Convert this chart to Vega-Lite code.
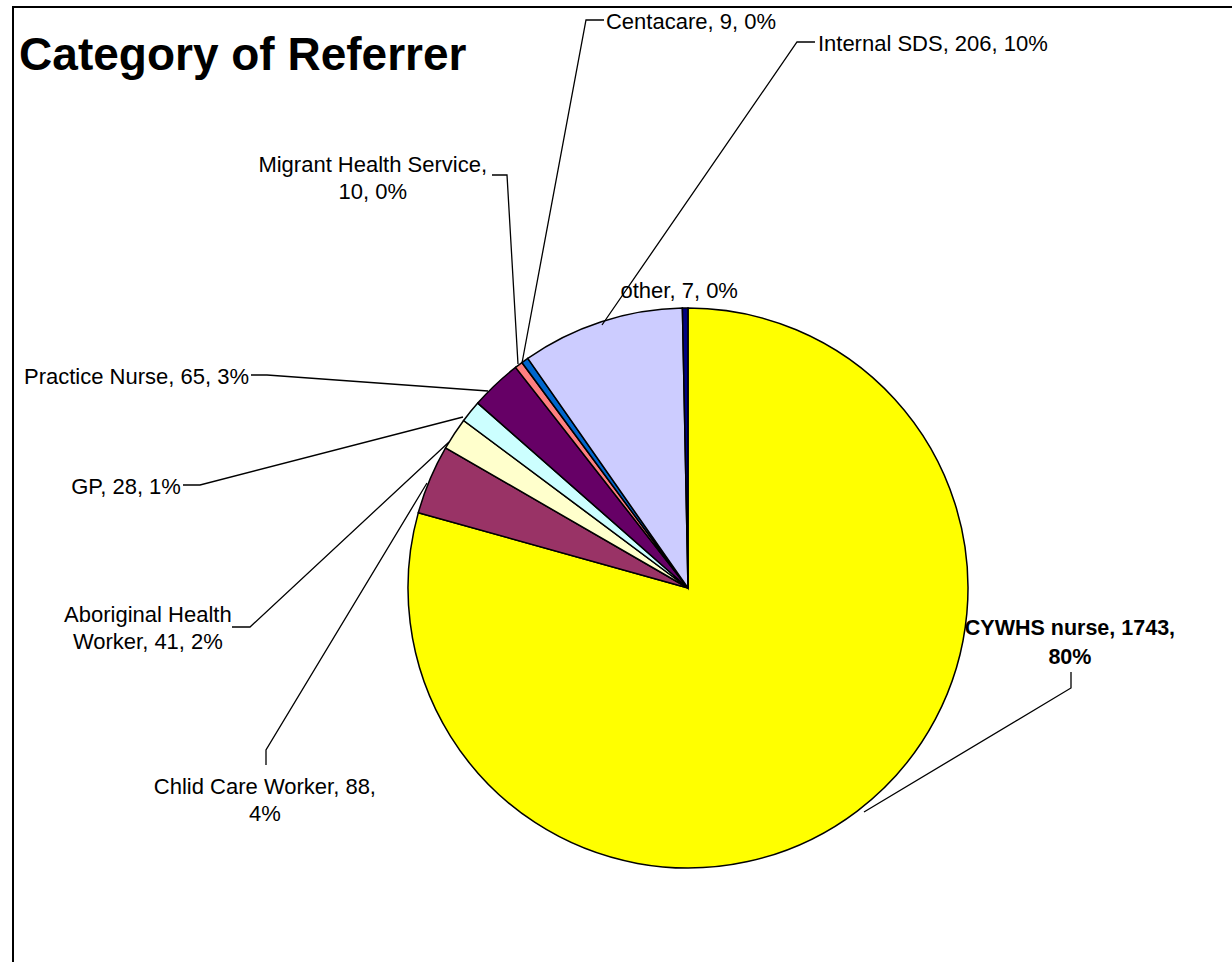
{
  "$schema": "https://vega.github.io/schema/vega-lite/v6.json",
  "width": 1221,
  "height": 957,
  "autosize": {"type": "none"},
  "padding": {"left": 13, "top": 7, "right": -2, "bottom": -2},
  "background": "white",
  "config": {
    "view": {"stroke": "black", "strokeWidth": 2},
    "text": {"font": "Arial, Liberation Sans", "fontSize": 22, "color": "black"}
  },
  "datasets": {
    "slices": [
      {"cat": "CYWHS nurse", "value": 1743, "pos": 1},
      {"cat": "Chlid Care Worker", "value": 88, "pos": 2},
      {"cat": "Aboriginal Health Worker", "value": 41, "pos": 3},
      {"cat": "GP", "value": 28, "pos": 4},
      {"cat": "Practice Nurse", "value": 65, "pos": 5},
      {"cat": "Migrant Health Service", "value": 10, "pos": 6},
      {"cat": "Centacare", "value": 9, "pos": 7},
      {"cat": "Internal SDS", "value": 206, "pos": 8},
      {"cat": "other", "value": 7, "pos": 9}
    ],
    "labels": [
      {"cat": "Centacare", "text": "Centacare, 9, 0%", "lx": -29.3, "ly": 202.0},
      {"cat": "Internal SDS", "text": "Internal SDS, 206, 10%", "lx": 46.4, "ly": 194.3},
      {"cat": "other", "text": "other, 7, 0%", "lx": -24.1, "ly": 105.9},
      {"cat": "Practice Nurse", "text": "Practice Nurse, 65, 3%", "lx": -156.8, "ly": 75.2},
      {"cat": "GP", "text": "GP, 28, 1%", "lx": -181.1, "ly": 35.9},
      {"cat": "Migrant Health Service", "text": "Migrant Health Service,\n10, 0%", "lx": -112.6, "ly": 151.2},
      {"cat": "Aboriginal Health Worker", "text": "Aboriginal Health\nWorker, 41, 2%", "lx": -192.9, "ly": -9.5},
      {"cat": "Chlid Care Worker", "text": "Chlid Care Worker, 88,\n4%", "lx": -151.1, "ly": -70.9},
      {"cat": "CYWHS nurse", "text": "CYWHS nurse, 1743,\n80%", "lx": 136.4, "ly": -14.5}
    ],
    "leaders": [
      {"cat": "Centacare", "seq": 1, "lx": -30.0, "ly": 202.857},
      {"cat": "Centacare", "seq": 2, "lx": -36.429, "ly": 202.857},
      {"cat": "Centacare", "seq": 3, "lx": -59.286, "ly": 80.357},
      {"cat": "Internal SDS", "seq": 1, "lx": 45.357, "ly": 195.0},
      {"cat": "Internal SDS", "seq": 2, "lx": 38.929, "ly": 195.0},
      {"cat": "Internal SDS", "seq": 3, "lx": -30.714, "ly": 93.929},
      {"cat": "Migrant Health Service", "seq": 1, "lx": -70.0, "ly": 147.5},
      {"cat": "Migrant Health Service", "seq": 2, "lx": -64.643, "ly": 147.5},
      {"cat": "Migrant Health Service", "seq": 3, "lx": -60.714, "ly": 80.0},
      {"cat": "Practice Nurse", "seq": 1, "lx": -156.071, "ly": 76.071},
      {"cat": "Practice Nurse", "seq": 2, "lx": -150.357, "ly": 76.071},
      {"cat": "Practice Nurse", "seq": 3, "lx": -71.429, "ly": 70.357},
      {"cat": "GP", "seq": 1, "lx": -180.357, "ly": 36.786},
      {"cat": "GP", "seq": 2, "lx": -174.286, "ly": 36.786},
      {"cat": "GP", "seq": 3, "lx": -80.357, "ly": 61.071},
      {"cat": "Aboriginal Health Worker", "seq": 1, "lx": -162.857, "ly": -13.929},
      {"cat": "Aboriginal Health Worker", "seq": 2, "lx": -156.429, "ly": -13.929},
      {"cat": "Aboriginal Health Worker", "seq": 3, "lx": -85.357, "ly": 52.143},
      {"cat": "Chlid Care Worker", "seq": 1, "lx": -150.714, "ly": -63.214},
      {"cat": "Chlid Care Worker", "seq": 2, "lx": -150.714, "ly": -57.857},
      {"cat": "Chlid Care Worker", "seq": 3, "lx": -93.214, "ly": 37.5},
      {"cat": "CYWHS nurse", "seq": 1, "lx": 136.786, "ly": -30.0},
      {"cat": "CYWHS nurse", "seq": 2, "lx": 136.786, "ly": -35.714},
      {"cat": "CYWHS nurse", "seq": 3, "lx": 62.857, "ly": -80.0}
    ]
  },
  "layer": [
    {
      "data": {"name": "slices"},
      "mark": {"type": "arc", "outerRadius": 280, "stroke": "black", "strokeWidth": 1.5},
      "encoding": {
        "x": {"datum": 0, "type": "quantitative", "scale": {"domain": [-241.071, 195], "nice": false, "zero": false}, "axis": null},
        "y": {"datum": 0, "type": "quantitative", "scale": {"domain": [-134.286, 207.5], "nice": false, "zero": false}, "axis": null},
        "theta": {"field": "value", "type": "quantitative", "stack": true},
        "order": {"field": "pos", "type": "quantitative"},
        "color": {
          "field": "cat",
          "type": "nominal",
          "scale": {
            "domain": ["CYWHS nurse", "Chlid Care Worker", "Aboriginal Health Worker", "GP", "Practice Nurse", "Migrant Health Service", "Centacare", "Internal SDS", "other"],
            "range": ["#FFFF00", "#993366", "#FFFFCC", "#CCFFFF", "#660066", "#FF8080", "#0066CC", "#CCCCFF", "#000080"]
          },
          "legend": null
        }
      }
    },
    {
      "data": {"name": "leaders"},
      "mark": {"type": "line", "color": "black", "strokeWidth": 1.3},
      "encoding": {
        "x": {"field": "lx", "type": "quantitative", "scale": {"domain": [-241.071, 195], "nice": false, "zero": false}, "axis": null},
        "y": {"field": "ly", "type": "quantitative", "scale": {"domain": [-134.286, 207.5], "nice": false, "zero": false}, "axis": null},
        "detail": {"field": "cat"},
        "order": {"field": "seq", "type": "quantitative"}
      }
    },
    {
      "data": {"name": "labels"},
      "transform": [{"filter": {"field": "cat", "oneOf": ["Centacare", "Internal SDS", "other"]}}],
      "mark": {"type": "text", "align": "left", "baseline": "middle", "lineBreak": "\n", "lineHeight": 27},
      "encoding": {
        "x": {"field": "lx", "type": "quantitative", "scale": {"domain": [-241.071, 195], "nice": false, "zero": false}, "axis": null},
        "y": {"field": "ly", "type": "quantitative", "scale": {"domain": [-134.286, 207.5], "nice": false, "zero": false}, "axis": null},
        "text": {"field": "text"}
      }
    },
    {
      "data": {"name": "labels"},
      "transform": [{"filter": {"field": "cat", "oneOf": ["Practice Nurse", "GP"]}}],
      "mark": {"type": "text", "align": "right", "baseline": "middle", "lineBreak": "\n", "lineHeight": 27},
      "encoding": {
        "x": {"field": "lx", "type": "quantitative", "scale": {"domain": [-241.071, 195], "nice": false, "zero": false}, "axis": null},
        "y": {"field": "ly", "type": "quantitative", "scale": {"domain": [-134.286, 207.5], "nice": false, "zero": false}, "axis": null},
        "text": {"field": "text"}
      }
    },
    {
      "data": {"name": "labels"},
      "transform": [{"filter": {"field": "cat", "oneOf": ["Migrant Health Service", "Aboriginal Health Worker", "Chlid Care Worker"]}}],
      "mark": {"type": "text", "align": "center", "baseline": "middle", "lineBreak": "\n", "lineHeight": 27},
      "encoding": {
        "x": {"field": "lx", "type": "quantitative", "scale": {"domain": [-241.071, 195], "nice": false, "zero": false}, "axis": null},
        "y": {"field": "ly", "type": "quantitative", "scale": {"domain": [-134.286, 207.5], "nice": false, "zero": false}, "axis": null},
        "text": {"field": "text"}
      }
    },
    {
      "data": {"name": "labels"},
      "transform": [{"filter": {"field": "cat", "equal": "CYWHS nurse"}}],
      "mark": {"type": "text", "align": "center", "baseline": "middle", "fontWeight": "bold", "fontSize": 21.5, "lineBreak": "\n", "lineHeight": 29},
      "encoding": {
        "x": {"field": "lx", "type": "quantitative", "scale": {"domain": [-241.071, 195], "nice": false, "zero": false}, "axis": null},
        "y": {"field": "ly", "type": "quantitative", "scale": {"domain": [-134.286, 207.5], "nice": false, "zero": false}, "axis": null},
        "text": {"field": "text"}
      }
    },
    {
      "data": {"values": [{"t": "Category of Referrer", "lx": -238.9, "ly": 185.0}]},
      "mark": {"type": "text", "align": "left", "baseline": "alphabetic", "fontSize": 46, "fontWeight": "bold"},
      "encoding": {
        "x": {"field": "lx", "type": "quantitative", "scale": {"domain": [-241.071, 195], "nice": false, "zero": false}, "axis": null},
        "y": {"field": "ly", "type": "quantitative", "scale": {"domain": [-134.286, 207.5], "nice": false, "zero": false}, "axis": null},
        "text": {"field": "t"}
      }
    }
  ]
}
